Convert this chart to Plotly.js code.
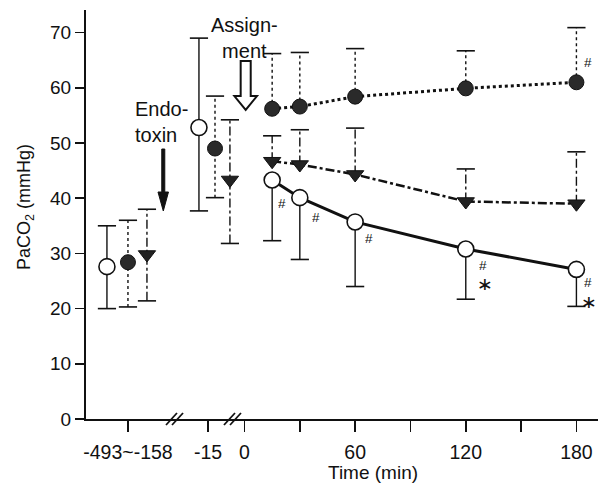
<!DOCTYPE html>
<html><head><meta charset="utf-8">
<script src="https://cdn.plot.ly/plotly-3.0.1.min.js"></script>
<style>body{margin:0;background:#fff}</style>
</head><body>
<div id="chart" style="width:607px;height:483px"></div>
<script>
// ---- data ----
const tickVals = [-63.2, -19.8, 0, 60, 120, 180];
const tickText = ['-493~-158', '-15', '0', '60', '120', '180'];
const minorTickVals = [30, 90, 150];

const xOpen   = [-74.6, -24.7, 15, 30, 60, 120, 180];
const xFilled = [-63.2, -16.0, 15, 30, 60, 120, 180];
const xTri    = [-52.9,  -7.9, 15, 30, 60, 120, 180];

const openMean = [27.6, 52.8, 43.3, 40.1, 35.7, 30.8, 27.1];
const openHi   = [35.0, 69.0, null, null, null, null, null];
const openLo   = [20.0, 37.7, 32.3, 28.9, 24.0, 21.7, 20.4];

const filledMean = [28.4, 49.0, 56.2, 56.6, 58.4, 59.9, 61.0];
const filledHi   = [36.0, 58.5, 66.2, 66.4, 67.1, 66.7, 70.9];
const filledLo   = [20.3, 40.1, null, null, null, null, null];

const triMean = [29.8, 43.3, 46.7, 46.1, 44.3, 39.4, 39.0];
const triHi   = [38.0, 54.2, 51.3, 52.4, 52.7, 45.3, 48.4];
const triLo   = [21.4, 31.8, null, null, null, null, null];

const POST = 2; // first index after assignment (connected by lines)

// ---- helpers ----
function stems(xs, m, hi, lo) {
  const x = [], y = [];
  xs.forEach((v, i) => {
    const a = lo[i] == null ? m[i] : lo[i];
    const b = hi[i] == null ? m[i] : hi[i];
    x.push(v, v, null); y.push(a, b, null);
  });
  return {x, y};
}
function caps(xs, hi, lo) {
  const x = [], y = [];
  xs.forEach((v, i) => {
    if (hi[i] != null) { x.push(v); y.push(hi[i]); }
    if (lo[i] != null) { x.push(v); y.push(lo[i]); }
  });
  return {x, y};
}
const BLACK = '#111';
const traces = [];
function addSeries(xs, m, hi, lo, dash, lineDash, lineW, marker) {
  const s = stems(xs, m, hi, lo);
  traces.push({x: s.x, y: s.y, mode: 'lines', line: {color: BLACK, width: 1.4, dash: dash}, hoverinfo: 'skip'});
  const c = caps(xs, hi, lo);
  traces.push({x: c.x, y: c.y, mode: 'markers', marker: {symbol: 'line-ew', size: 13, line: {color: BLACK, width: 1.6}}, hoverinfo: 'skip'});
  traces.push({x: xs.slice(POST), y: m.slice(POST), mode: 'lines', line: {color: BLACK, width: lineW, dash: lineDash}});
  traces.push({x: xs, y: m, mode: 'markers', marker: marker});
}
addSeries(xFilled, filledMean, filledHi, filledLo, 'dot', 'dot', 3,
  {symbol: 'circle', size: 15, color: '#2a2a2a', line: {color: BLACK, width: 1}});
addSeries(xTri, triMean, triHi, triLo, 'dashdot', 'dashdot', 2.5,
  {symbol: 'triangle-down', size: 15, color: '#222', line: {color: BLACK, width: 1}});
addSeries(xOpen, openMean, openHi, openLo, 'solid', 'solid', 3,
  {symbol: 'circle', size: 16, color: '#fff', line: {color: BLACK, width: 1.6}});

// ---- pixel -> paper helpers for decorations ----
const L = 86, R = 598, T = 10, B = 419;
const px = v => ((v - L) / (R - L)).toFixed(4);
const py = v => ((B - v) / (B - T)).toFixed(4);
function path(pts) { return 'M ' + pts.map(p => px(p[0]) + ',' + py(p[1])).join(' L ') + ' Z'; }

const shapes = [
  // Endotoxin arrow (solid)
  {type: 'path', xref: 'paper', yref: 'paper', fillcolor: BLACK, line: {color: BLACK, width: 1},
   path: path([[161.8,149],[164.8,149],[164.8,192],[168.5,192],[163.3,211],[158,192],[161.8,192]])},
  // Assignment arrow (hollow)
  {type: 'path', xref: 'paper', yref: 'paper', fillcolor: '#fff', line: {color: BLACK, width: 2},
   path: path([[240.7,61],[250.7,61],[250.7,96],[257,96],[245.7,110],[234.4,96],[240.7,96]])},
  // axis breaks
  {type: 'line', xref: 'paper', yref: 'paper', x0: px(166), y0: py(425), x1: px(177), y1: py(413), line: {color: BLACK, width: 1.8}},
  {type: 'line', xref: 'paper', yref: 'paper', x0: px(172), y0: py(425), x1: px(183), y1: py(413), line: {color: BLACK, width: 1.8}},
  {type: 'line', xref: 'paper', yref: 'paper', x0: px(224), y0: py(425), x1: px(235), y1: py(413), line: {color: BLACK, width: 1.8}},
  {type: 'line', xref: 'paper', yref: 'paper', x0: px(230), y0: py(425), x1: px(241), y1: py(413), line: {color: BLACK, width: 1.8}}
];

const F = 'Liberation Sans, Arial, Helvetica, sans-serif';
function hash(x, y, dx, dy) {
  return {x: x, y: y, xref: 'x', yref: 'y', text: '#', showarrow: false, xshift: dx, yshift: dy,
          height: 12, font: {family: F, size: 13.5, color: BLACK}};
}
function star(x, y, dx, dy) {
  return {x: x, y: y, xref: 'x', yref: 'y', text: '\u2217', showarrow: false, xshift: dx, yshift: dy,
          height: 13, font: {family: 'DejaVu Sans', size: 19, color: BLACK}};
}
const annotations = [
  hash(xOpen[2], openMean[2], 10, -23),
  hash(xOpen[3], openMean[3], 16, -19),
  hash(xOpen[4], openMean[4], 14, -16),
  hash(xOpen[5], openMean[5], 17, -16),
  star(xOpen[5], openMean[5], 19, -35),
  hash(xOpen[6], openMean[6], 12, -13),
  star(xOpen[6], openMean[6], 13, -32),
  hash(xFilled[6], filledMean[6], 12, 20),
  {xref: 'paper', yref: 'paper', x: px(133), y: py(96), xanchor: 'left', yanchor: 'top', align: 'left',
   text: 'Endo-<br>toxin', showarrow: false, font: {family: F, size: 20, color: BLACK}},
  {xref: 'paper', yref: 'paper', x: px(244), y: py(12), xanchor: 'center', yanchor: 'top', align: 'center',
   text: 'Assign-<br>ment', showarrow: false, font: {family: F, size: 20, color: BLACK}},
  {xref: 'paper', yref: 'paper', x: px(373), y: py(472), xanchor: 'center', yanchor: 'middle',
   text: 'Time (min)', showarrow: false, font: {family: F, size: 19, color: BLACK}},
  {xref: 'paper', yref: 'paper', x: px(25), y: py(207), xanchor: 'center', yanchor: 'middle', textangle: -90,
   text: 'PaCO<sub>2</sub> (mmHg)', showarrow: false, font: {family: F, size: 18, color: BLACK}}
];

const layout = {
  width: 607, height: 483,
  margin: {l: L, r: 607 - R, t: T, b: 483 - B},
  paper_bgcolor: '#fff', plot_bgcolor: '#fff',
  showlegend: false,
  font: {family: F, color: BLACK},
  xaxis: {range: [(L - 244.5) / 1.844, (R - 244.5) / 1.844], tickmode: 'array', tickvals: tickVals, ticktext: tickText,
          showgrid: false, zeroline: false, showline: true, linecolor: BLACK, linewidth: 2,
          ticks: 'outside', ticklen: 11, tickwidth: 1.5, tickcolor: BLACK, ticklabelstandoff: 4,
          minor: {tickmode: 'array', tickvals: minorTickVals, ticks: 'outside', ticklen: 11, tickwidth: 1.5, tickcolor: BLACK, showgrid: false},
          tickfont: {family: F, size: 19.5, color: BLACK}},
  yaxis: {range: [0, (B - T) / 5.52], tickvals: [0, 10, 20, 30, 40, 50, 60, 70],
          showgrid: false, zeroline: false, showline: true, linecolor: BLACK, linewidth: 2,
          ticks: 'outside', ticklen: 9, tickwidth: 1.5, tickcolor: BLACK,
          tickfont: {family: F, size: 19, color: BLACK}},
  shapes: shapes,
  annotations: annotations
};
Plotly.newPlot('chart', traces, layout, {displayModeBar: false, staticPlot: true});
</script>
</body></html>
